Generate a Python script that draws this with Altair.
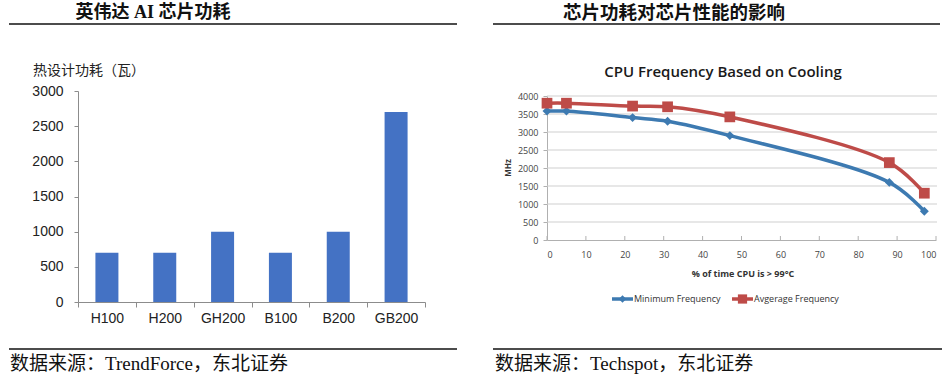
import altair as alt
import pandas as pd

# ---------------- data ----------------
chips = ["H100", "H200", "GH200", "B100", "B200", "GB200"]
tdp_watts = [700, 700, 1000, 700, 1000, 2700]
left_y_ticks = [0, 500, 1000, 1500, 2000, 2500, 3000]

pct_time_hot = [0, 5, 22, 31, 47, 88, 97]
min_freq = [3580, 3580, 3400, 3300, 2900, 1600, 800]
avg_freq = [3800, 3800, 3720, 3700, 3420, 2150, 1300]
series_names = ["Minimum Frequency", "Avgerage Frequency"]
right_y_ticks = [0, 500, 1000, 1500, 2000, 2500, 3000, 3500, 4000]
right_x_ticks = [0, 10, 20, 30, 40, 50, 60, 70, 80, 90, 100]

left_title = "英伟达 AI 芯片功耗"
right_title = "芯片功耗对芯片性能的影响"
left_axis_title = "热设计功耗（瓦）"
inner_title = "CPU Frequency Based on Cooling"
inner_x_title = "% of time CPU is  > 99°C"
inner_y_title = "MHz"
left_source = "数据来源：TrendForce，东北证券"
right_source = "数据来源：Techspot，东北证券"

W, H = 945, 377
CJK = "Noto Sans CJK SC"
SERIF_CJK = "Liberation Serif, Noto Sans CJK SC"
BLUE = "#3D7AB1"
RED = "#BE4B48"
one = pd.DataFrame({"a": [0]})

# ---------------- left: bar chart ----------------
bar_df = pd.DataFrame({"chip": chips, "tdp": tdp_watts})
bars = alt.Chart(bar_df).mark_bar(color="#4472C4", width=23).encode(
    x=alt.X(
        "chip:N", sort=chips,
        scale=alt.Scale(range=[78, 425], paddingInner=0, paddingOuter=0),
        axis=alt.Axis(orient="bottom", offset=302 - H, title=None, labelAngle=0,
                      tickBand="extent", domainColor="#8c8c8c", tickColor="#8c8c8c",
                      tickSize=5, labelFont="Liberation Sans", labelFontSize=14,
                      labelColor="#222222", labelPadding=4),
    ),
    y=alt.Y(
        "tdp:Q",
        scale=alt.Scale(domain=[0, 3000], range=[302, 91], nice=False),
        axis=alt.Axis(orient="left", offset=-78, values=left_y_ticks, title=None,
                      format="d", grid=False, domainColor="#8c8c8c", tickColor="#8c8c8c",
                      tickSize=4, labelFont="Liberation Sans", labelFontSize=14,
                      labelColor="#222222", labelPadding=11),
    ),
)

# ---------------- right: line chart ----------------
line_df = pd.DataFrame({
    "pct": pct_time_hot + pct_time_hot,
    "freq": min_freq + avg_freq,
    "series": [series_names[0]] * len(min_freq) + [series_names[1]] * len(avg_freq),
})
xs = alt.X(
    "pct:Q",
    scale=alt.Scale(domain=[0, 100], range=[547, 936], nice=False),
    axis=alt.Axis(orient="bottom", offset=240 - H, values=right_x_ticks, title=None,
                  format="d", grid=False, ticks=False, domainColor="#b0b0b0",
                  labelFont="Open Sans", labelFontSize=9, labelColor="#444444",
                  labelPadding=10),
)
ys = alt.Y(
    "freq:Q",
    scale=alt.Scale(domain=[0, 4000], range=[240, 96], nice=False),
    axis=alt.Axis(orient="left", offset=-547, values=right_y_ticks, title=None,
                  format="d", grid=False, domainColor="#b0b0b0", tickColor="#b0b0b0",
                  tickSize=4, labelFont="Open Sans", labelFontSize=9,
                  labelColor="#444444", labelPadding=5),
)
color = alt.Color("series:N", scale=alt.Scale(domain=series_names, range=[BLUE, RED]),
                  legend=None)

grid_df = pd.DataFrame({"freq": right_y_ticks[1:]})
grid = alt.Chart(grid_df).mark_rule(color="#cfcfcf", strokeWidth=1).encode(
    y=ys, x=alt.value(547), x2=alt.value(937)
)
xtick_df = pd.DataFrame({"pct": right_x_ticks})
xticks = alt.Chart(xtick_df).mark_rule(color="#b0b0b0").encode(
    x=xs, y=alt.value(236), y2=alt.value(240)
)
lines = alt.Chart(line_df).mark_line(interpolate="catmull-rom", strokeWidth=3.5).encode(
    x=xs, y=ys, color=color, detail="series:N"
)
points = alt.Chart(line_df).mark_point(filled=True, opacity=1).encode(
    x=xs, y=ys, color=color,
    shape=alt.Shape("series:N", scale=alt.Scale(domain=series_names, range=["diamond", "square"]), legend=None),
    size=alt.Size("series:N", scale=alt.Scale(domain=series_names, range=[80, 115]), legend=None),
)
line_chart = alt.layer(grid, xticks, lines, points)

# ---------------- decorations ----------------
def txt(s, x, y, size, font=CJK, weight="normal", align="center", color="#111111", angle=0, baseline="middle"):
    return alt.Chart(one).mark_text(font=font, fontSize=size, fontWeight=weight, align=align,
                                    baseline=baseline, color=color, angle=angle).encode(
        x=alt.value(x), y=alt.value(y), text=alt.value(s))

def hrule(x1, x2, y, w=1.6, color="#111111"):
    return alt.Chart(one).mark_rule(color=color, strokeWidth=w).encode(
        x=alt.value(x1), x2=alt.value(x2), y=alt.value(y))

legend_items = []
for name, c, shape, size, x0 in [(series_names[0], BLUE, "diamond", 55, 612),
                                 (series_names[1], RED, "square", 85, 732)]:
    legend_items.append(hrule(x0, x0 + 21, 299, w=3.5, color=c))
    legend_items.append(alt.Chart(one).mark_point(shape=shape, filled=True, color=c, size=size, opacity=1)
                        .encode(x=alt.value(x0 + 10.5), y=alt.value(299)))
    legend_items.append(txt(name, x0 + 22, 299, 9, font="Open Sans", align="left", color="#333333"))

decor = [
    txt(left_title, 153, 13, 18, font=SERIF_CJK, weight="bold"),
    txt(right_title, 674, 13, 18.5, font=SERIF_CJK, weight="bold"),
    hrule(9, 457, 24), hrule(493, 940, 24),
    hrule(9, 457, 349), hrule(493, 942, 349),
    txt(left_source, 10, 364, 19, font=SERIF_CJK, align="left"),
    txt(right_source, 495, 364, 19, font=SERIF_CJK, align="left"),
    txt(left_axis_title, 33, 71, 14, align="left", color="#222222"),
    txt(inner_title, 723, 72, 15, font="Open Sans", weight=600, color="#1a1a1a"),
    txt(inner_x_title, 743, 274, 9, font="Open Sans", weight="bold", color="#333333"),
    txt(inner_y_title, 509, 168, 8, font="Open Sans", weight="bold", color="#333333", angle=270),
] + legend_items

chart = alt.layer(bars, line_chart, *decor).resolve_scale(
    x="independent", y="independent", color="independent"
).resolve_axis(x="independent", y="independent").properties(
    width=W, height=H, padding=0, autosize=alt.AutoSizeParams(type="none"),
    background="white",
).configure_view(stroke=None)

chart.save("out.html", embed_options={"renderer": "svg", "actions": False})
